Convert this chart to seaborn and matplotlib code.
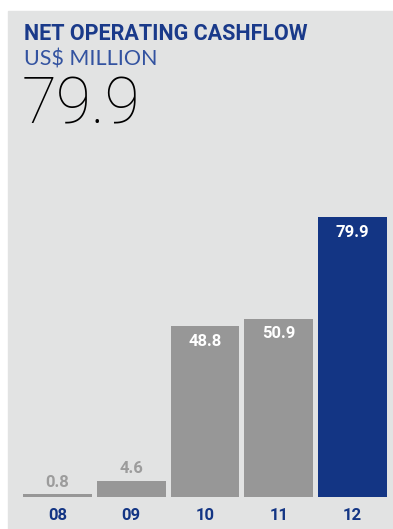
import matplotlib
matplotlib.use("Agg")
import matplotlib.pyplot as plt
import seaborn as sns
import pandas as pd
from matplotlib.patches import Rectangle

years = ["08", "09", "10", "11", "12"]
cashflow = [0.8, 4.6, 48.8, 50.9, 79.9]
headline = "79.9"

grey = "#979797"
blue = "#133584"
bg = "#e2e3e3"
colors = [grey, grey, grey, grey, blue]

sns.set_theme(style="white")
plt.rcParams["font.family"] = ["Roboto", "DejaVu Sans"]

W, H = 393, 529
fig = plt.figure(figsize=(W / 100, H / 100), dpi=100)
fig.patch.set_facecolor("white")
fig.patches.append(Rectangle((8 / W, 0), 1 - 8 / W, (H - 11) / H,
                             transform=fig.transFigure, color=bg, zorder=-5))

# axes placed in pixels so bars land where the reference has them
left, right, top, bottom = 20.6, 389.4, 182, 497
ax = fig.add_axes([left / W, (H - bottom) / H, (right - left) / W, (bottom - top) / H])
ax.set_facecolor("none")
ax.set_zorder(2)

df = pd.DataFrame({"year": years, "value": cashflow})
sns.barplot(data=df, x="year", y="value", hue="year", palette=colors,
            width=0.935, saturation=1, legend=False, linewidth=0, ax=ax)
ax.set_xlim(-0.5, 4.5)
ax.set_ylim(0, 90)

for i, v in enumerate(cashflow):
    if v < 10:
        ax.annotate(f"{v:.1f}", (i, v), xytext=(0, 12), textcoords="offset pixels",
                    ha="center", va="center", color="#9c9c9c", fontsize=12,
                    fontweight="bold")
    else:
        ax.annotate(f"{v:.1f}", (i, v), xytext=(0, -15), textcoords="offset pixels",
                    ha="center", va="center", color="white", fontsize=12,
                    fontweight="bold")

ax.set_xlabel("")
ax.set_ylabel("")
ax.set_yticks([])
ax.tick_params(axis="x", length=0, pad=8)
for lab in ax.get_xticklabels():
    lab.set_color(blue)
    lab.set_fontweight("bold")
    lab.set_fontsize(12)
sns.despine(ax=ax, left=True, bottom=True)

fig.text(24 / W, 1 - 34 / H, "NET OPERATING CASHFLOW", color="#1a3a8a",
         fontsize=15.5, fontweight="bold", va="center", ha="left")
fig.text(24 / W, 1 - 60 / H, "US$ MILLION", color="#3353a0",
         fontsize=15.5, va="center", ha="left", family=["Lato", "DejaVu Sans"])
fig.text(22 / W, 1 - 105 / H, headline, color="black",
         fontsize=46, va="center", ha="left", family=["Roboto", "DejaVu Sans"],
         fontweight="light")

fig.savefig("out.png", dpi=100)
